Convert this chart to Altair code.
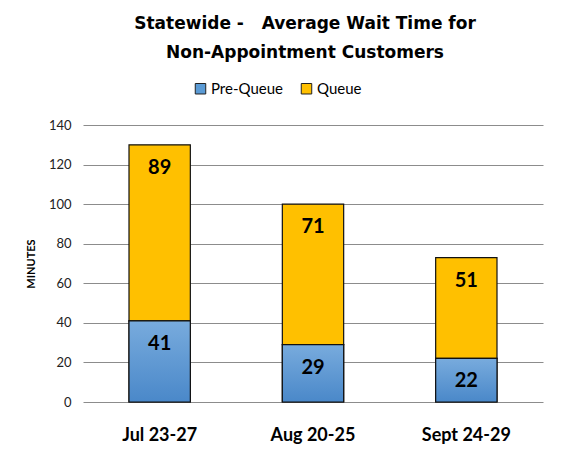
import altair as alt
import pandas as pd

periods = ["Jul 23-27", "Aug 20-25", "Sept 24-29"]
pre_queue = [41, 29, 22]
queue = [89, 71, 51]
series = ["Pre-Queue", "Queue"]

rows = []
for p, a, b in zip(periods, pre_queue, queue):
    rows.append({"Period": p, "Series": "Pre-Queue", "Minutes": a, "order": 0})
    rows.append({"Period": p, "Series": "Queue", "Minutes": b, "order": 1})
df = pd.DataFrame(rows)

FONT = "Lato"
NB = "\u00a0"
EN = "\u2002"

base = alt.Chart(df).transform_stack(
    stack="Minutes", groupby=["Period"], as_=["y0", "y1"],
    sort=[alt.SortField("order", order="ascending")]
)

x_enc = alt.X("Period:N", sort=periods, title=None,
              scale=alt.Scale(paddingInner=0.6, paddingOuter=0.3),
              axis=alt.Axis(labelAngle=0, labelFontSize=18, labelFontWeight="bold",
                            labelColor="#000000", labelFont=FONT, ticks=False,
                            domain=False, labelPadding=24, labelOverlap=False))
y_enc = alt.Y("y1:Q", title="MINUTES",
              scale=alt.Scale(domain=[0, 140]),
              axis=alt.Axis(values=list(range(0, 141, 20)), labelFontSize=13,
                            labelColor="#222222", labelFont=FONT, ticks=False,
                            domain=False, labelPadding=12, gridColor="#8c8c8c",
                            gridWidth=1, titleFontSize=11, titleFont=FONT,
                            titleFontWeight="bold", titleColor="#000000",
                            titlePadding=12, labelOverlap=False))

bars = base.mark_bar(stroke="#111111", strokeWidth=1.2).encode(
    x=x_enc,
    y=y_enc,
    y2="y0:Q",
    color=alt.Color("Series:N", scale=alt.Scale(domain=series, range=["#5b9bd5", "#ffc000"]),
                    legend=alt.Legend(title=None, orient="none", direction="horizontal",
                                      legendX=110, legendY=-44, symbolType="square",
                                      symbolSize=110, symbolStrokeColor="#222222",
                                      symbolStrokeWidth=1, labelFontSize=15,
                                      labelFont=FONT, labelColor="#000000",
                                      columnPadding=16, labelOffset=3)),
)

grad = alt.Gradient(gradient="linear", x1=0, x2=0, y1=0, y2=1,
                    stops=[alt.GradientStop(color="#78abdd", offset=0),
                           alt.GradientStop(color="#4a88c9", offset=1)])

pre_bars = base.transform_filter(alt.datum.Series == "Pre-Queue").mark_bar(
    stroke="#111111", strokeWidth=1.2, color=grad).encode(
    x=x_enc,
    y=y_enc,
    y2="y0:Q",
)

labels = base.mark_text(fontSize=20, fontWeight="bold", font=FONT, color="#000000",
                        baseline="middle", dy=23).encode(
    x=x_enc,
    y=y_enc,
    text="Minutes:Q",
)

title_lines = ["Statewide -" + NB * 3 + "Average Wait Time for",
               EN * 4 + "Non-Appointment Customers"]

chart = alt.layer(bars, pre_bars, labels).properties(
    width=460, height=277,
    autosize=alt.AutoSizeParams(type="none"),
    padding={"left": 75, "top": 117, "right": 11, "bottom": 48},
    title=alt.TitleParams(text=title_lines,
                          fontSize=17, fontWeight="bold", font="DejaVu Sans",
                          color="#000000", anchor="middle", offset=19,
                          lineHeight=29, dx=-8),
).configure_view(stroke=None)

chart.save("out.html", embed_options={"renderer": "svg", "actions": False})
